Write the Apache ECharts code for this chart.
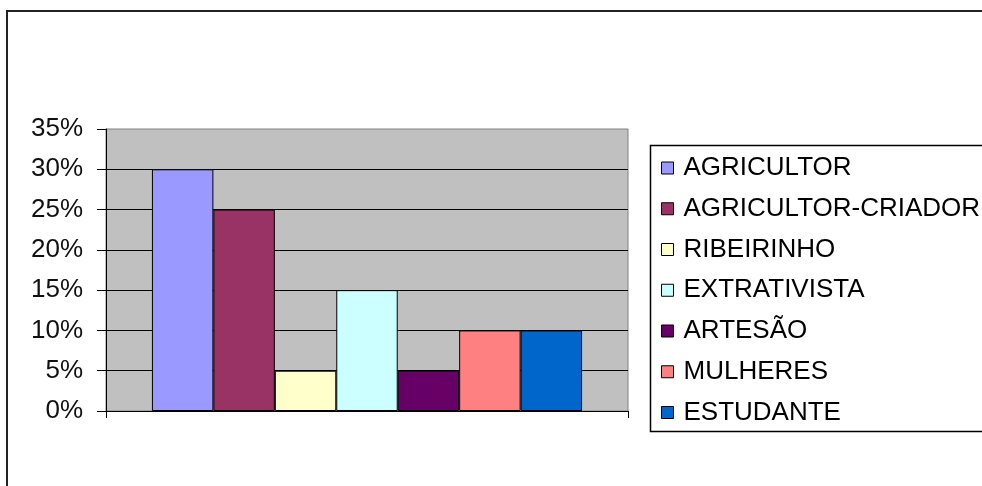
<!DOCTYPE html>
<html>
<head>
<meta charset="utf-8">
<script src="https://cdn.jsdelivr.net/npm/echarts@6/dist/echarts.min.js"></script>
<style>
html,body{margin:0;padding:0;background:#fff;}
#c{width:982px;height:486px;}
</style>
</head>
<body>
<div id="c"></div>
<script>
const categories = ['AGRICULTOR','AGRICULTOR-CRIADOR','RIBEIRINHO','EXTRATIVISTA','ARTESÃO','MULHERES','ESTUDANTE'];
const values = [30, 25, 5, 15, 5, 10, 10];
const colors = ['#9999FF','#993366','#FFFFCC','#CCFFFF','#660066','#FF8080','#0066CC'];
const yMin = 0, yMax = 35, yStep = 5;

const FONT = "'Liberation Sans', Arial, sans-serif";
const chart = echarts.init(document.getElementById('c'), null, {renderer:'canvas'});
chart.setOption({
  animation: false,
  backgroundColor: '#ffffff',
  textStyle: {fontFamily: FONT},
  grid: {left: 106, right: 354, top: 129, bottom: 75, show: true, backgroundColor: '#C0C0C0', borderColor: '#808080', borderWidth: 1, containLabel: false},
  graphic: [
    {type:'rect', shape:{x:7, y:11, width:1100, height:700}, style:{fill:'none', stroke:'#222', lineWidth:2}, silent:true},
    {type:'rect', shape:{x:650.5, y:145.5, width:500, height:286}, style:{fill:'none', stroke:'#000', lineWidth:1.5}, silent:true}
  ],
  legend: {
    orient: 'vertical', left: 661, top: 154, padding: 0,
    itemWidth: 12, itemHeight: 12, itemGap: 12.75,
    icon: 'rect',
    itemStyle: {borderColor:'#000', borderWidth:1},
    textStyle: {fontSize: 26, lineHeight: 28, color: '#000', fontFamily: FONT, padding: [0,0,0,5]},
    data: categories
  },
  xAxis: {
    type: 'category', data: [''],
    axisLine: {show: true, lineStyle: {color: '#000', width: 1}},
    axisTick: {show: true, length: 7, lineStyle: {color: '#000'}},
    axisLabel: {show: false},
    splitLine: {show: false}
  },
  yAxis: {
    type: 'value', min: yMin, max: yMax, interval: yStep,
    axisLine: {show: true, lineStyle: {color: '#000', width: 1}},
    axisTick: {show: true, length: 9, lineStyle: {color: '#000'}},
    axisLabel: {formatter: '{value}%', fontSize: 26, color: '#111', margin: 23, fontFamily: FONT},
    splitLine: {show: true, showMaxLine: false, lineStyle: {color: '#000', width: 1}}
  },
  series: categories.map((name, i) => ({
    type: 'bar', name: name, data: [values[i]],
    barGap: '0%', barCategoryGap: '17.6%',
    itemStyle: {color: colors[i], borderColor: '#000', borderWidth: 1}
  }))
});
</script>
</body>
</html>
